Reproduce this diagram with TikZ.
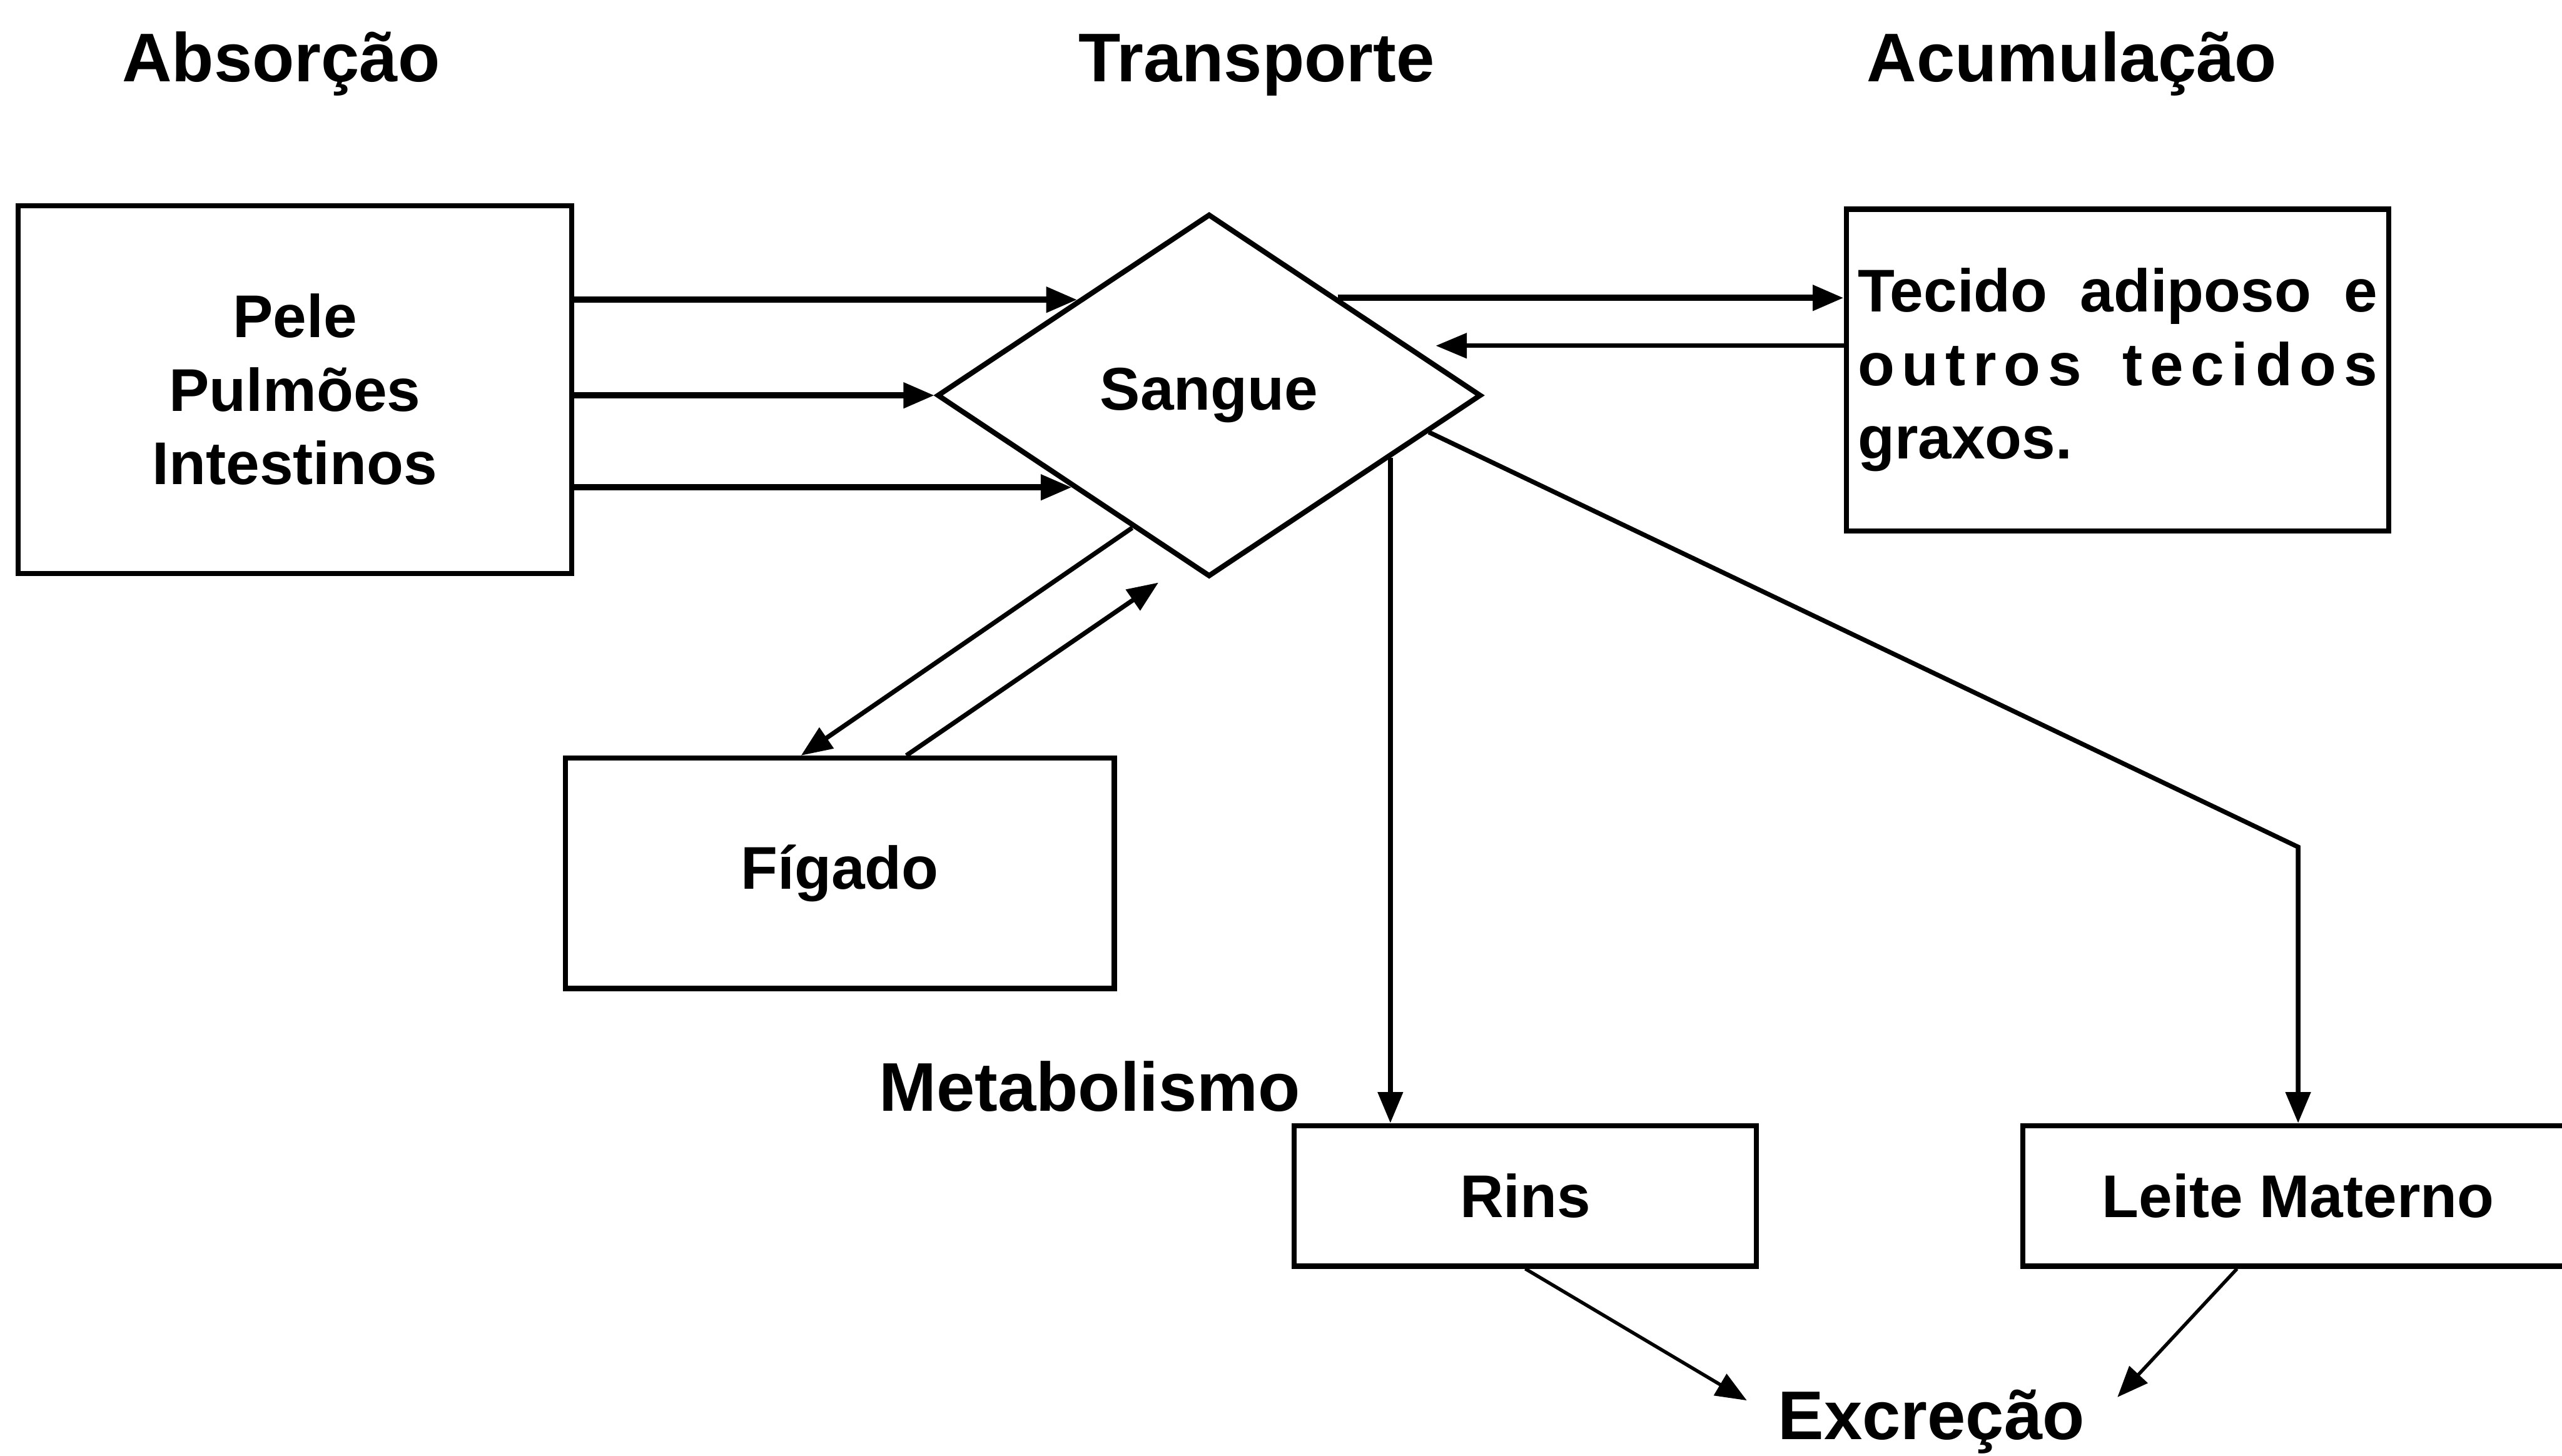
\documentclass[tikz,border=0pt]{standalone}
\usepackage{fontspec}
\setmainfont{Liberation Sans}
\usetikzlibrary{positioning,arrows.meta,calc,shapes.geometric}

\begin{document}
\begin{tikzpicture}[x=0.1mm, y=-0.1mm, line width=0.8pt,
  every node/.style={font=\bfseries\fontsize{10.5}{12.8}\selectfont, align=center},
  caixa/.style={draw, line width=0.9pt, inner sep=0.7mm},
  titulo/.style={font=\bfseries\fontsize{12}{14}\selectfont, anchor=base},
  seta/.style={-{Triangle[length=1.9mm, width=1.5mm]}}]
  \useasboundingbox (0,0) rectangle (1568,891);
  % titulos
  \node[titulo] (absorcao) at (172,50) {Absorção};
  \node[titulo] (transporte) at (769,50) {Transporte};
  \node[titulo] (acumulacao) at (1268,50) {Acumulação};
  % caixas
  \node[caixa, minimum width=33.9mm, minimum height=22.5mm] (orgaos) at (180.5,238.5) {Pele\\Pulmões\\Intestinos};
  \node[caixa, diamond, aspect=1.5, minimum width=33.3mm, minimum height=22.2mm, inner sep=0pt] (sangue) at (740,242) {Sangue};
  \node[caixa, minimum width=33.2mm, minimum height=19.7mm, text width=31.8mm, align=left] (tecido) at (1296,226.5) {\makebox[31.8mm][s]{Tecido\hfil\ adiposo\hfil\ e}\\\makebox[31.8mm][s]{\addfontfeature{LetterSpace=12}outros\hfil\ tecidos}\\graxos.};
  \node[caixa, minimum width=33.6mm, minimum height=14.1mm] (figado) at (514,534.5) {Fígado};
  \node[caixa, minimum width=28.3mm, minimum height=8.6mm] (rins) at (933.5,732) {Rins};
  \node[caixa, minimum width=33.7mm, minimum height=8.6mm] (leite) at (1406.5,732) {Leite Materno};
  \node[titulo] (metabolismo) at (667,680) {Metabolismo};
  \node[titulo] (excrecao) at (1182,881) {Excreção};
  % pontos na borda do losango
  \coordinate (e1) at ($(sangue.west)!0.52!(sangue.north)$);
  \coordinate (e3) at ($(sangue.west)!0.5!(sangue.south)$);
  \coordinate (d1) at ($(sangue.north)!0.47!(sangue.east)$);
  \coordinate (d2) at ($(sangue.north)!0.73!(sangue.east)$);
  \coordinate (f1) at ($(sangue.west)!0.72!(sangue.south)$);
  \coordinate (f2) at ($(sangue.south)+(-31,2)$);
  \coordinate (r1) at ($(sangue.south)!0.66!(sangue.east)$);
  \coordinate (l1) at ($(sangue.south)!0.8!(sangue.east)$);
  % setas
  \draw[seta, line width=1.1pt] (orgaos.east |- e1) -- (e1);
  \draw[seta, line width=1.1pt] (orgaos.east |- sangue.west) -- (sangue.west);
  \draw[seta, line width=1.1pt] (orgaos.east |- e3) -- (e3);
  \draw[seta, line width=1.1pt] (d1) -- (d1 -| tecido.west);
  \draw[seta, shorten >=1.6mm] (d2 -| tecido.west) -- (d2);
  \draw[seta] (f1) -- ($(figado.north west)!0.43!(figado.north east)$);
  \draw[seta] ($(figado.north west)!0.62!(figado.north east)$) -- (f2);
  \draw[seta] (r1) -- (r1 |- rins.north);
  \draw[seta] (l1) -- ($(leite.north)+(0,-169)$) -- (leite.north);
  \draw[seta, line width=0.6pt] (rins.south) -- ($(excrecao.west)+(-6,-13)$);
  \draw[seta, line width=0.6pt] ($(leite.south west)!0.39!(leite.south east)$) -- ($(excrecao.east)+(7,-15)$);
\end{tikzpicture}
\end{document}
